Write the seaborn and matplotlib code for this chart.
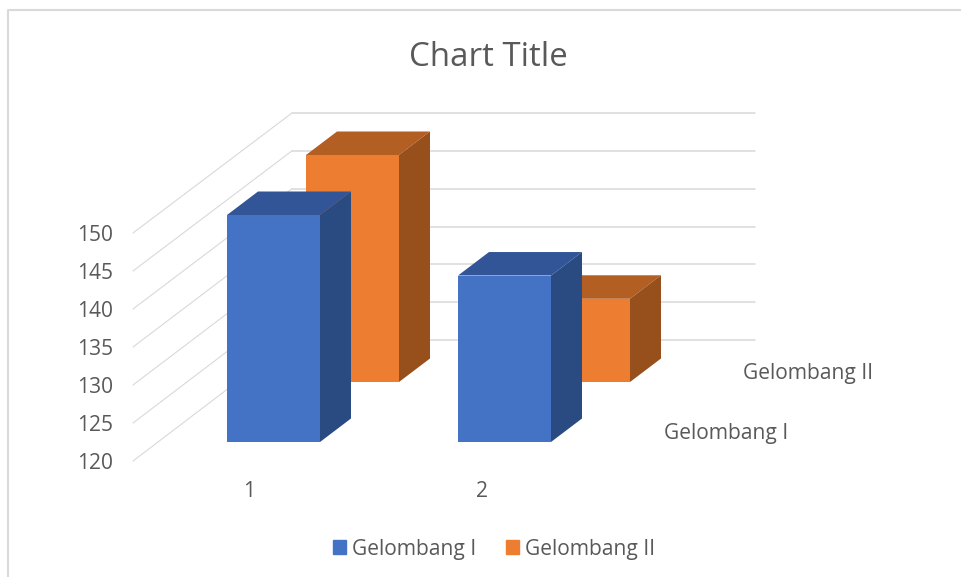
import matplotlib
matplotlib.use("Agg")
import matplotlib.pyplot as plt
import seaborn as sns
from matplotlib.lines import Line2D
from matplotlib.patches import ConnectionPatch, Patch, Polygon
from matplotlib.transforms import IdentityTransform

# data
categories = ["1", "2"]
gelombang_1 = [150, 142]
gelombang_2 = [150, 131]
y_ticks = [120, 125, 130, 135, 140, 145, 150]
series_names = ["Gelombang I", "Gelombang II"]
chart_title = "Chart Title"

W, H = 961, 577
BLUE, BLUE_TOP, BLUE_SIDE = "#4472C4", "#325597", "#2A4A82"
ORANGE, ORANGE_TOP, ORANGE_SIDE = "#ED7D31", "#B35E22", "#974F1B"
TEXT = "#595959"
GRID = "#D9D9D9"
DEPTH_X, DEPTH_Y = 31, 23.5
FS = 15.1

sns.set_theme(style="white")
plt.rcParams["font.family"] = ["Open Sans", "DejaVu Sans"]


def rect(left, top, right, bottom):
    # pixel box of the image -> figure fractions
    return [left / W, 1 - bottom / H, (right - left) / W, (bottom - top) / H]


def fx(x):
    return x / W


def fy(y):
    return 1 - y / H


fig = plt.figure(figsize=(W / 100, H / 100), dpi=100, facecolor="white")

# frame of the pasted chart, open on the right and at the bottom
fig.add_artist(Line2D([fx(8), fx(8), 1], [0, fy(9.5), fy(9.5)], color=GRID, lw=1.5))

# back wall with the gridlines
ax_wall = fig.add_axes(rect(292, 113, 755, 340), zorder=1)
ax_wall.set_ylim(120, 150)
ax_wall.set_yticks(y_ticks)
ax_wall.set_xticks([])
ax_wall.tick_params(left=False, labelleft=False)
ax_wall.grid(axis="y", color=GRID, lw=1.1)
for line in ax_wall.get_ygridlines():
    line.set_clip_on(False)
sns.despine(ax=ax_wall, left=True, bottom=True)
ax_wall.patch.set_visible(False)

# front plane: holds the tick labels and the start of the side wall lines
ax_plane = fig.add_axes(rect(133, 233, 598, 461), zorder=1)
ax_plane.set_xlim(-0.5, 1.5)
ax_plane.set_ylim(120, 150)
ax_plane.set_yticks(y_ticks)
ax_plane.set_xticks(range(len(categories)))
ax_plane.set_xticklabels(categories)
ax_plane.tick_params(axis="y", length=0, pad=14.4, labelsize=FS, labelcolor=TEXT)
ax_plane.tick_params(axis="x", length=0, pad=14.5, labelsize=FS, labelcolor=TEXT)
sns.despine(ax=ax_plane, left=True, bottom=True)
ax_plane.patch.set_visible(False)
for tick in y_ticks:
    ax_plane.add_artist(ConnectionPatch(
        (-0.5, tick), (0, tick),
        coordsA=ax_plane.transData,
        coordsB=ax_wall.get_yaxis_transform(),
        color=GRID, lw=0.8, clip_on=False,
    ))


def draw_series(box, values, colors, z):
    front, top, side = colors
    ax = fig.add_axes(rect(*box), zorder=z)
    sns.barplot(x=categories, y=values, color=front, saturation=1, width=0.4026,
                linewidth=0, ax=ax)
    ax.set_xlim(-0.5, 1.5)
    ax.set_ylim(120, 150)
    ax.axis("off")
    for bar in ax.patches[:]:
        x0 = bar.get_x()
        x1 = x0 + bar.get_width()
        (px0, py0), (px1, py1) = ax.transData.transform(
            [(x0, max(bar.get_y(), 120)), (x1, bar.get_y() + bar.get_height())]
        )
        top_face = [(px0, py1), (px1, py1), (px1 + DEPTH_X, py1 + DEPTH_Y), (px0 + DEPTH_X, py1 + DEPTH_Y)]
        side_face = [(px1, py0), (px1 + DEPTH_X, py0 + DEPTH_Y), (px1 + DEPTH_X, py1 + DEPTH_Y), (px1, py1)]
        for face, col in ((top_face, top), (side_face, side)):
            ax.add_patch(Polygon(face, closed=True, facecolor=col, edgecolor="none",
                                 transform=IdentityTransform(), clip_on=False))
    return ax


# the orange row sits one step deeper than the blue one
draw_series((237, 155, 699, 382), gelombang_2, (ORANGE, ORANGE_TOP, ORANGE_SIDE), 2)
draw_series((158, 215, 620, 442), gelombang_1, (BLUE, BLUE_TOP, BLUE_SIDE), 3)

# depth axis labels
fig.text(fx(664), fy(433), series_names[0], fontsize=FS, color=TEXT, ha="left", va="center")
fig.text(fx(743), fy(373), series_names[1], fontsize=FS, color=TEXT, ha="left", va="center")

fig.text(fx(488.5), fy(58), chart_title, fontsize=23.8, color=TEXT, ha="center", va="center")

handles = [Patch(color=BLUE, label=series_names[0]), Patch(color=ORANGE, label=series_names[1])]
fig.legend(handles=handles, loc="center", bbox_to_anchor=(fx(494), fy(549)), ncol=2,
           frameon=False, fontsize=FS, labelcolor=TEXT, handlelength=0.62, handleheight=0.62,
           handletextpad=0.3, columnspacing=1.4, borderpad=0)

fig.savefig("out.png", dpi=100, facecolor="white")
plt.close(fig)
